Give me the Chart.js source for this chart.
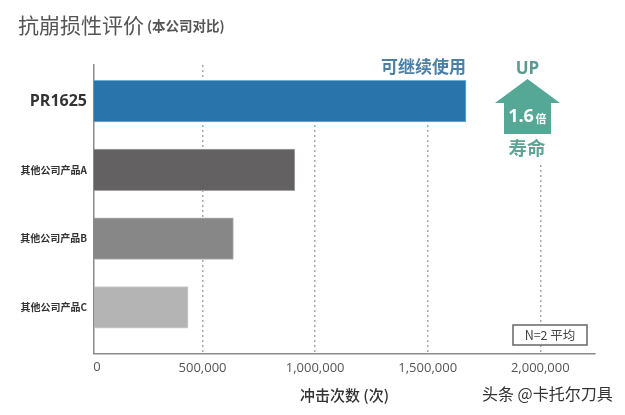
<!DOCTYPE html>
<html>
<head>
<meta charset="utf-8">
<style>
  html, body { margin: 0; padding: 0; background: #fff; }
  canvas { display: block; }
</style>
<script src="https://cdn.jsdelivr.net/npm/chart.js@4"></script>
</head>
<body>
<canvas id="chart" width="625" height="415"></canvas>
<script>
const categories = ['PR1625', '其他公司产品A', '其他公司产品B', '其他公司产品C'];
const impactCounts = [1670000, 910000, 637000, 436000];
const barColors = ['#2a74ac', '#636161', '#888787', '#b4b4b4'];
const barEdges = ['#6fb0d2', '#a5a4a4', '#b4b3b3', '#cfcfcf'];
const xTicks = [500000, 1000000, 1500000, 2000000];

const cjk = '"Noto Sans CJK SC", sans-serif';

function text(ctx, str, x, y, font, color, align) {
    ctx.font = font;
    ctx.fillStyle = color;
    ctx.textAlign = align || 'left';
    ctx.textBaseline = 'middle';
    ctx.fillText(str, x, y);
}

// Gridlines are hidden behind the labels at the top right
const maskPlugin = {
    id: 'mask',
    beforeDatasetsDraw(chart) {
        const ctx = chart.ctx;
        const x = chart.scales.x;
        ctx.save();
        ctx.fillStyle = '#fff';
        ctx.fillRect(x.getPixelForValue(1000000) - 3, 60, 6, 20);
        ctx.fillRect(x.getPixelForValue(1500000) - 3, 60, 6, 20);
        ctx.fillRect(x.getPixelForValue(2000000) - 3, 60, 6, 105);
        ctx.restore();
    }
};

// Titles, arrow, note box and watermark
const labelsPlugin = {
    id: 'labels',
    afterDraw(chart) {
        const ctx = chart.ctx;
        ctx.save();

        text(ctx, '抗崩损性评价', 18, 25, '21px ' + cjk, '#555', 'left');
        text(ctx, '(本公司对比)', 147, 26, 'bold 13.5px ' + cjk, '#555', 'left');
        text(ctx, '可继续使用', 466, 67, 'bold 17px ' + cjk, '#4a7fa6', 'right');

        // arrow
        ctx.fillStyle = '#55a796';
        ctx.beginPath();
        ctx.moveTo(527.5, 79);
        ctx.lineTo(560, 103);
        ctx.lineTo(551, 103);
        ctx.lineTo(551, 134);
        ctx.lineTo(504, 134);
        ctx.lineTo(504, 103);
        ctx.lineTo(495, 103);
        ctx.closePath();
        ctx.fill();
        text(ctx, 'UP', 527.5, 69, 'bold 17px "Open Sans", sans-serif', '#5b9a90', 'center');
        text(ctx, '1.6', 521, 117, 'bold 18px "Open Sans", sans-serif', '#fff', 'center');
        text(ctx, '倍', 541, 119, 'bold 11px ' + cjk, '#fff', 'center');
        text(ctx, '寿命', 527, 148, 'bold 18.5px ' + cjk, '#5fa597', 'center');

        // note box
        ctx.fillStyle = '#fff';
        ctx.fillRect(513, 325, 74, 20);
        ctx.strokeStyle = '#666';
        ctx.lineWidth = 1.5;
        ctx.strokeRect(513, 325, 74, 20);
        text(ctx, 'N=2 平均', 550, 335.5, '12.5px ' + cjk, '#444', 'center');

        // zero label sits a little right of the axis
        text(ctx, '0', 97, 367, '13px "Open Sans", sans-serif', '#555', 'center');

        text(ctx, '头条 @卡托尔刀具', 482, 394, '16px ' + cjk, '#333', 'left');
        ctx.restore();
    }
};

new Chart(document.getElementById('chart'), {
    type: 'bar',
    data: {
        datasets: [{
            data: impactCounts.map((v, i) => ({ x: v, y: i })),
            backgroundColor: barColors,
            borderColor: barEdges,
            borderWidth: 1,
            barThickness: 41.5
        }]
    },
    options: {
        indexAxis: 'y',
        responsive: false,
        animation: false,
        layout: { padding: { left: 0, right: 30, top: 65, bottom: 0 } },
        plugins: { legend: { display: false }, tooltip: { enabled: false } },
        scales: {
            x: {
                type: 'linear',
                min: 18000,
                max: 2243000,
                afterBuildTicks(axis) {
                    axis.ticks = xTicks.map(v => ({ value: v }));
                },
                border: { display: true, color: '#8a8a8a', width: 1.5, dash: [2, 3] },
                grid: {
                    drawTicks: false,
                    color: '#a9a9a9',
                    lineWidth: 1.5
                },
                ticks: {
                    padding: 7,
                    maxRotation: 0,
                    color: '#555',
                    font: { family: '"Open Sans", sans-serif', size: 13 },
                    callback: v => v.toLocaleString('en-US')
                },
                title: {
                    display: true,
                    text: '冲击次数 (次)',
                    color: '#333',
                    font: { family: cjk, size: 15, weight: '500' },
                    padding: { top: 3, bottom: 11 }
                }
            },
            y: {
                type: 'linear',
                reverse: true,
                offset: false,
                min: -0.526,
                max: 3.67,
                afterBuildTicks(axis) {
                    axis.ticks = categories.map((c, i) => ({ value: i }));
                },
                afterFit(axis) {
                    axis.width = 94;
                },
                border: { display: true, color: '#8a8a8a', width: 1.5 },
                grid: { display: false, drawTicks: false },
                ticks: {
                    padding: 7,
                    color: '#333',
                    font: ctx => ctx.index === 0
                        ? { family: '"Open Sans", sans-serif', size: 16, weight: 'bold' }
                        : { family: cjk, size: 10, weight: 'bold' },
                    callback: v => categories[v]
                }
            }
        }
    },
    plugins: [maskPlugin, labelsPlugin]
});
</script>
</body>
</html>
